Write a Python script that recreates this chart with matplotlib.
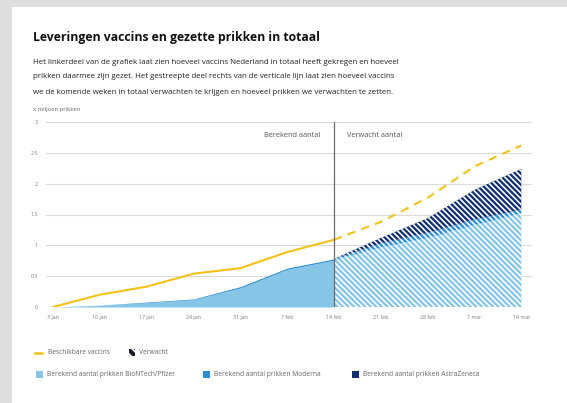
import matplotlib
matplotlib.use("Agg")
import matplotlib.pyplot as plt
from matplotlib.patches import Rectangle
from matplotlib.lines import Line2D

# data (x in days since 3 jan, weekly)
days = [0, 7, 14, 21, 28, 35, 42, 49, 56, 63, 70]
tick_labels = ["3 jan", "10 jan", "17 jan", "24 jan", "31 jan", "7 feb",
               "14 feb", "21 feb", "28 feb", "7 mar", "14 mar"]
beschikbaar = [0, 0.20, 0.33, 0.54, 0.63, 0.89, 1.09, 1.38, 1.77, 2.28, 2.62]
pfizer = [0, 0.03, 0.07, 0.12, 0.31, 0.61, 0.76, 0.97, 1.12, 1.33, 1.52]
moderna = [0, 0, 0.01, 0.01, 0.02, 0.02, 0.02, 0.06, 0.08, 0.09, 0.06]
astrazeneca = [0, 0, 0, 0, 0, 0, 0, 0.09, 0.24, 0.48, 0.66]
split = 6  # index of 14 feb

C_YELLOW = "#f2c21b"
C_PFIZER = "#87c5e6"
C_MODERNA = "#2a8dd4"
C_AZ = "#0f2f6e"
GREY = "#7a7a7a"
FONT = ["Open Sans", "DejaVu Sans"]
HATCH = "\\" * 6

plt.rcParams["font.family"] = FONT
plt.rcParams["hatch.linewidth"] = 1.2

W, H = 567, 403
fig = plt.figure(figsize=(W / 100, H / 100), dpi=100)
fig.patch.set_facecolor("#dedede")
fig.add_artist(Rectangle((12 / W, 0), 1, 1 - 7 / H, transform=fig.transFigure,
                         facecolor="white", edgecolor="none", zorder=0))

ax = fig.add_axes([46 / W, 1 - 307 / H, (532 - 46) / W, (307 - 122) / H])
ax.set_facecolor("none")

m_top = [p + m for p, m in zip(pfizer, moderna)]
a_top = [t + a for t, a in zip(m_top, astrazeneca)]

# berekend (solid)
L = slice(0, split + 1)
ax.fill_between(days[L], 0, pfizer[L], color=C_PFIZER, lw=0, zorder=2)
ax.fill_between(days[L], pfizer[L], m_top[L], color=C_MODERNA, lw=0, zorder=2)

# verwacht (hatched)
R = slice(split, None)
ax.fill_between(days[R], 0, pfizer[R], facecolor=C_PFIZER, edgecolor="white",
                hatch=HATCH, lw=0, zorder=2)
ax.fill_between(days[R], pfizer[R], m_top[R], facecolor=C_MODERNA, edgecolor="white",
                hatch=HATCH, lw=0, zorder=2)
ax.fill_between(days[R], m_top[R], a_top[R], facecolor=C_AZ, edgecolor="white",
                hatch=HATCH, lw=0, zorder=2)

ax.plot(days[L], beschikbaar[L], color=C_YELLOW, lw=1.5, zorder=4)
ax.plot(days[R], beschikbaar[R], color=C_YELLOW, lw=1.5, zorder=4, dashes=(4, 3))

ax.axvline(days[split], color="#6a6a6a", lw=0.9, zorder=5)
ax.text(days[split] - 2, 2.78, "Berekend aantal", ha="right", va="center",
        fontsize=5.3, color="#555555")
ax.text(days[split] + 2, 2.78, "Verwacht aantal", ha="left", va="center",
        fontsize=5.3, color="#555555")

ax.set_xlim(-1.05, 71.6)
ax.set_ylim(0, 3)
ax.set_yticks([0, 0.5, 1, 1.5, 2, 2.5, 3])
ax.set_yticklabels(["0", "0.5", "1", "1.5", "2", "2.5", "3"])
ax.set_xticks(days)
ax.set_xticklabels(tick_labels)
ax.tick_params(length=0, labelsize=3.8, labelcolor=GREY)
ax.tick_params(axis="y", pad=6)
ax.tick_params(axis="x", pad=6)
ax.grid(axis="y", color="#dcdcdc", lw=0.8, zorder=0)
for s in ax.spines.values():
    s.set_visible(False)

# titles
fig.text(33 / W, 1 - 37 / H, "Leveringen vaccins en gezette prikken in totaal",
         fontsize=8.8, fontweight="bold", color="#111111", va="center")
sub = ("Het linkerdeel van de grafiek laat zien hoeveel vaccins Nederland in totaal heeft gekregen en hoeveel\n"
       "prikken daarmee zijn gezet. Het gestreepte deel rechts van de verticale lijn laat zien hoeveel vaccins\n"
       "we de komende weken in totaal verwachten te krijgen en hoeveel prikken we verwachten te zetten.")
fig.text(33 / W, 1 - 58.5 / H, sub, fontsize=5.7, color="#222222", va="top", linespacing=2.6)
fig.text(33 / W, 1 - 110 / H, "x miljoen prikken", fontsize=4.2, color="#666666", va="center")

# legend
def leg_text(x, y, s):
    fig.text(x / W, 1 - y / H, s, fontsize=4.8, color="#666666", va="center")

fig.add_artist(Line2D([35 / W, 42 / W], [1 - 352.5 / H] * 2, color=C_YELLOW, lw=1.8,
                      transform=fig.transFigure))
leg_text(48, 352.5, "Beschikbare vaccins")
fig.add_artist(Rectangle((129 / W, 1 - 356 / H), 6 / W, 7 / H, transform=fig.transFigure,
                         facecolor="#1a1a2a", edgecolor="white", hatch="\\\\\\\\", lw=0))
leg_text(139, 352.5, "Verwacht")

for x0, tx, c, s in [(36, 47, C_PFIZER, "Berekend aantal prikken BioNTech/Pfizer"),
                     (203, 214, C_MODERNA, "Berekend aantal prikken Moderna"),
                     (352, 363, C_AZ, "Berekend aantal prikken AstraZeneca")]:
    fig.add_artist(Rectangle((x0 / W, 1 - 378 / H), 6.5 / W, 7 / H, transform=fig.transFigure,
                             facecolor=c, edgecolor="none"))
    leg_text(tx, 374.5, s)

fig.savefig("out.png", dpi=100)
